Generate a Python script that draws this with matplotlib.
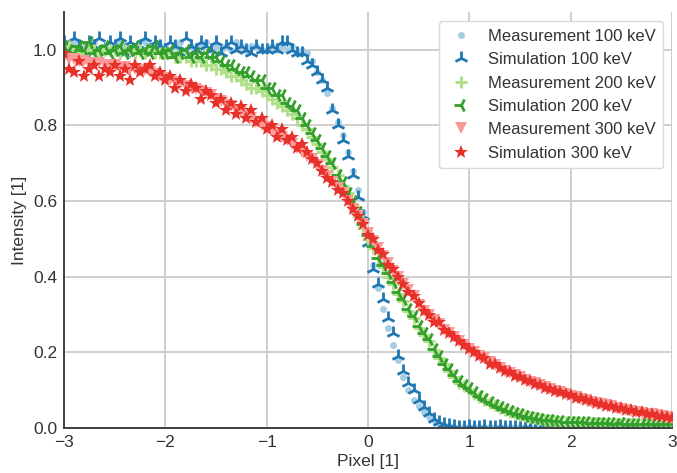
import matplotlib

matplotlib.use("Agg")
import matplotlib.pyplot as plt
import numpy as np

# edge profiles sampled every 0.05 pixel from -3 to 3
x_start, x_step = -3.0, 0.05

meas_100 = [
    1.01, 1.00, 1.02, 1.01, 1.00, 1.01, 1.02, 1.00, 1.01, 1.01,
    1.00, 1.02, 1.01, 1.00, 1.01, 1.00, 1.02, 1.01, 1.00, 1.01,
    1.01, 1.00, 1.01, 1.02, 1.00, 1.01, 1.00, 1.01, 1.02, 1.00,
    1.01, 1.00, 1.01, 1.00, 1.02, 1.01, 1.00, 1.01, 1.01, 1.00,
    1.00, 1.01, 1.00, 1.01, 1.00, 1.01, 0.99, 1.00, 0.99, 0.97,
    0.94, 0.92, 0.885, 0.845, 0.81, 0.775, 0.73, 0.68, 0.63, 0.57,
    0.50, 0.43, 0.37, 0.315, 0.265, 0.22, 0.18, 0.135, 0.10, 0.075,
    0.058, 0.042, 0.03, 0.02, 0.012, 0.008, 0.005, 0.004, 0.003, 0.003,
    0.003, 0.002, 0.004, 0.003, 0.002, 0.003, 0.004, 0.002, 0.003, 0.003,
    0.002, 0.003, 0.004, 0.002, 0.003, 0.003, 0.002, 0.004, 0.003, 0.002,
    0.003, 0.002, 0.003, 0.004, 0.002, 0.003, 0.003, 0.002, 0.003, 0.004,
    0.002, 0.003, 0.002, 0.003, 0.004, 0.002, 0.003, 0.003, 0.002, 0.003, 0.003,
]

sim_100 = [
    1.02, 1.00, 1.03, 1.01, 0.99, 1.02, 1.01, 1.03, 1.00, 1.02,
    1.01, 1.03, 0.99, 1.02, 1.00, 1.01, 1.03, 1.00, 1.02, 1.01,
    1.00, 1.02, 1.01, 0.99, 1.03, 1.01, 1.00, 1.02, 1.01, 1.00,
    1.02, 0.99, 1.01, 1.02, 1.00, 1.01, 1.00, 0.99, 1.01, 1.00,
    1.00, 1.01, 1.00, 1.02, 1.02, 1.00, 0.99, 0.99, 0.97, 0.96,
    0.94, 0.92, 0.90, 0.84, 0.80, 0.76, 0.72, 0.67, 0.61, 0.56,
    0.49, 0.42, 0.38, 0.34, 0.29, 0.25, 0.19, 0.15, 0.12, 0.10,
    0.075, 0.055, 0.04, 0.025, 0.016, 0.01, 0.007, 0.005, 0.004, 0.004,
    0.005, 0.003, 0.004, 0.006, 0.003, 0.004, 0.005, 0.003, 0.004, 0.003,
    0.004, 0.005, 0.003, 0.004, 0.003, 0.005, 0.004, 0.003, 0.004, 0.003,
    0.005, 0.003, 0.004, 0.006, 0.003, 0.004, 0.005, 0.003, 0.004, 0.003,
    0.004, 0.003, 0.005, 0.003, 0.004, 0.003, 0.004, 0.005, 0.003, 0.004, 0.003,
]

meas_200 = [
    1.00, 1.01, 1.00, 0.99, 1.00, 1.01, 1.00, 0.99, 1.00, 1.00,
    1.00, 0.99, 1.00, 1.00, 0.99, 1.00, 0.99, 1.00, 0.99, 0.99,
    0.99, 0.99, 0.98, 0.98, 0.98, 0.97, 0.97, 0.97, 0.96, 0.96,
    0.95, 0.95, 0.94, 0.93, 0.93, 0.92, 0.91, 0.90, 0.90, 0.89,
    0.88, 0.87, 0.86, 0.85, 0.84, 0.83, 0.82, 0.80, 0.79, 0.77,
    0.75, 0.73, 0.71, 0.69, 0.67, 0.64, 0.62, 0.59, 0.56, 0.53,
    0.50, 0.475, 0.45, 0.425, 0.40, 0.38, 0.355, 0.335, 0.31, 0.29,
    0.265, 0.245, 0.23, 0.205, 0.185, 0.17, 0.15, 0.135, 0.12, 0.11,
    0.10, 0.09, 0.082, 0.074, 0.066, 0.06, 0.054, 0.048, 0.043, 0.039,
    0.035, 0.032, 0.029, 0.026, 0.024, 0.022, 0.02, 0.018, 0.017, 0.016,
    0.015, 0.015, 0.014, 0.014, 0.013, 0.013, 0.013, 0.012, 0.012, 0.012,
    0.012, 0.011, 0.011, 0.011, 0.011, 0.010, 0.010, 0.010, 0.010, 0.010, 0.010,
]

sim_200 = [
    1.01, 1.00, 0.99, 1.01, 1.00, 1.02, 0.99, 1.00, 1.01, 0.99,
    1.00, 1.01, 0.99, 1.00, 1.01, 0.99, 1.00, 0.99, 1.01, 0.99,
    0.99, 1.00, 0.98, 0.99, 1.00, 0.98, 0.99, 0.98, 0.99, 0.98,
    0.98, 0.97, 0.96, 0.96, 0.95, 0.94, 0.94, 0.93, 0.92, 0.92,
    0.90, 0.90, 0.88, 0.88, 0.86, 0.85, 0.84, 0.82, 0.80, 0.78,
    0.76, 0.74, 0.72, 0.70, 0.67, 0.65, 0.62, 0.60, 0.57, 0.54,
    0.51, 0.48, 0.45, 0.43, 0.41, 0.385, 0.36, 0.34, 0.315, 0.295,
    0.27, 0.25, 0.235, 0.21, 0.19, 0.17, 0.155, 0.14, 0.125, 0.115,
    0.105, 0.095, 0.085, 0.078, 0.07, 0.062, 0.055, 0.05, 0.045, 0.04,
    0.036, 0.033, 0.03, 0.027, 0.024, 0.022, 0.02, 0.019, 0.018, 0.017,
    0.016, 0.016, 0.015, 0.015, 0.014, 0.014, 0.013, 0.014, 0.013, 0.012,
    0.013, 0.012, 0.012, 0.011, 0.012, 0.011, 0.011, 0.010, 0.011, 0.010, 0.010,
]

meas_300 = [
    0.98, 0.975, 0.975, 0.97, 0.97, 0.965, 0.965, 0.965, 0.96, 0.96,
    0.96, 0.955, 0.955, 0.95, 0.95, 0.945, 0.945, 0.94, 0.935, 0.93,
    0.925, 0.92, 0.915, 0.91, 0.905, 0.90, 0.895, 0.89, 0.885, 0.88,
    0.87, 0.865, 0.855, 0.85, 0.84, 0.835, 0.825, 0.82, 0.81, 0.80,
    0.795, 0.785, 0.775, 0.77, 0.76, 0.75, 0.74, 0.73, 0.72, 0.71,
    0.695, 0.68, 0.665, 0.65, 0.635, 0.62, 0.60, 0.58, 0.56, 0.54,
    0.515, 0.495, 0.475, 0.455, 0.435, 0.415, 0.40, 0.38, 0.365, 0.35,
    0.325, 0.31, 0.30, 0.285, 0.275, 0.26, 0.25, 0.24, 0.23, 0.22,
    0.21, 0.20, 0.19, 0.185, 0.175, 0.167, 0.16, 0.152, 0.146, 0.14,
    0.134, 0.128, 0.123, 0.118, 0.113, 0.108, 0.103, 0.098, 0.094, 0.09,
    0.086, 0.082, 0.078, 0.074, 0.07, 0.066, 0.063, 0.06, 0.057, 0.054,
    0.051, 0.048, 0.046, 0.043, 0.041, 0.038, 0.036, 0.034, 0.031, 0.029, 0.027,
]

sim_300 = [
    0.99, 0.95, 0.94, 0.97, 0.93, 0.95, 0.96, 0.93, 0.95, 0.94,
    0.96, 0.93, 0.95, 0.92, 0.96, 0.94, 0.95, 0.96, 0.93, 0.94,
    0.92, 0.93, 0.90, 0.92, 0.89, 0.91, 0.90, 0.87, 0.89, 0.88,
    0.86, 0.87, 0.84, 0.86, 0.83, 0.85, 0.82, 0.84, 0.81, 0.82,
    0.79, 0.80, 0.77, 0.79, 0.76, 0.77, 0.74, 0.75, 0.73, 0.71,
    0.70, 0.68, 0.66, 0.65, 0.63, 0.62, 0.60, 0.58, 0.56, 0.54,
    0.51, 0.50, 0.47, 0.46, 0.43, 0.42, 0.40, 0.38, 0.36, 0.35,
    0.33, 0.31, 0.30, 0.28, 0.28, 0.26, 0.25, 0.24, 0.23, 0.22,
    0.21, 0.20, 0.19, 0.185, 0.17, 0.168, 0.16, 0.15, 0.147, 0.138,
    0.135, 0.127, 0.124, 0.116, 0.114, 0.107, 0.104, 0.097, 0.095, 0.089,
    0.087, 0.08, 0.079, 0.073, 0.071, 0.065, 0.064, 0.058, 0.058, 0.053,
    0.052, 0.047, 0.047, 0.042, 0.042, 0.037, 0.037, 0.033, 0.032, 0.028, 0.026,
]

labels = [
    "Measurement 100 keV",
    "Simulation 100 keV",
    "Measurement 200 keV",
    "Simulation 200 keV",
    "Measurement 300 keV",
    "Simulation 300 keV",
]


def main() -> None:
    plt.rcParams["font.family"] = ["Liberation Sans", "DejaVu Sans"]
    plt.rcParams["font.size"] = 12.5

    series = [meas_100, sim_100, meas_200, sim_200, meas_300, sim_300]
    # Paired palette: light = measurement, dark = simulation
    colors = ["#a6cee3", "#1f78b4", "#b2df8a", "#33a02c", "#fb9a99", "#e8312a"]
    markers = ["o", "2", "+", "3", "v", "*"]
    sizes = [5, 10, 9, 10, 8.5, 10]
    edge_widths = [0, 2.0, 2.2, 2.0, 0, 0]

    figure = plt.figure(figsize=(6.77, 4.73), dpi=100)
    axis = figure.add_axes([0.0945, 0.095, 0.898, 0.88])

    for values, color, marker, size, mew, label in zip(
        series, colors, markers, sizes, edge_widths, labels
    ):
        x = x_start + x_step * np.arange(len(values))
        axis.plot(
            x,
            values,
            linestyle="none",
            marker=marker,
            markersize=size,
            markeredgewidth=mew,
            color=color,
            label=label,
        )

    axis.set_xlim(-3, 3)
    axis.set_ylim(0, 1.1)
    axis.set_xticks([-3, -2, -1, 0, 1, 2, 3])
    axis.set_yticks([0.0, 0.2, 0.4, 0.6, 0.8, 1.0])
    axis.set_xlabel("Pixel [1]", color="0.2", labelpad=3)
    axis.set_ylabel("Intensity [1]", color="0.2", labelpad=4)

    axis.grid(True, color="0.8", linewidth=1.3)
    axis.set_axisbelow(True)
    axis.tick_params(length=0, colors="0.2", labelsize=12.5, pad=5)
    for side in ("top", "right"):
        axis.spines[side].set_visible(False)
    for side in ("left", "bottom"):
        axis.spines[side].set_color("0.25")
        axis.spines[side].set_linewidth(1.4)

    legend = axis.legend(
        loc="upper right",
        fontsize=12,
        frameon=True,
        fancybox=True,
        labelspacing=0.5,
        borderpad=0.45,
        handlelength=1.7,
        handletextpad=0.8,
        borderaxespad=0.0,
        bbox_to_anchor=(0.986, 0.977),
    )
    legend.get_frame().set_edgecolor("0.85")
    legend.get_frame().set_alpha(1.0)
    for text in legend.get_texts():
        text.set_color("0.2")

    figure.savefig("out.png", dpi=100)
    plt.close(figure)


if __name__ == "__main__":
    main()
